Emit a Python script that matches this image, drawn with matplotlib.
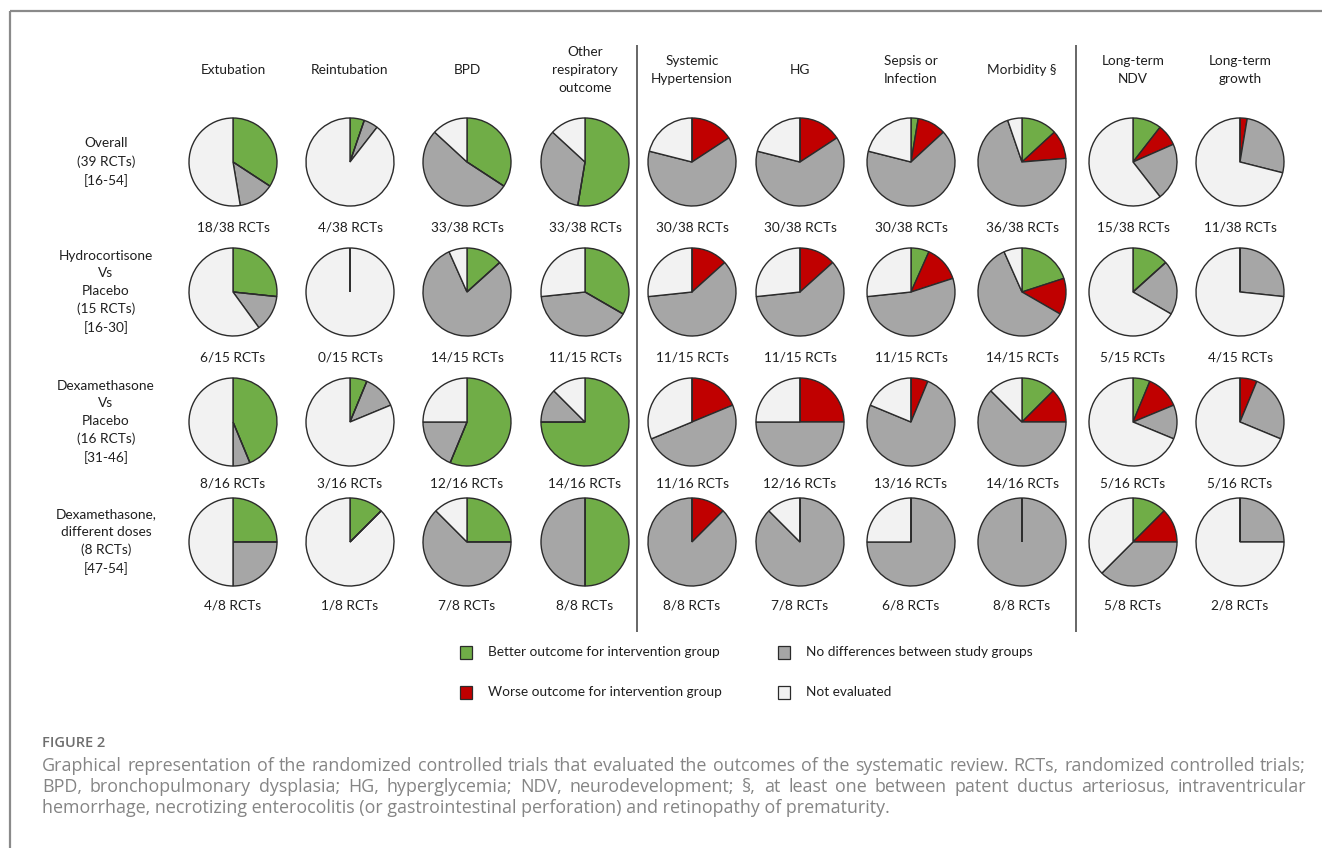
import matplotlib
matplotlib.use("Agg")
import matplotlib.pyplot as plt
from matplotlib.patches import Rectangle

# ---------------- data ----------------
outcomes = ["Extubation", "Reintubation", "BPD", "Other\nrespiratory\noutcome",
            "Systemic\nHypertension", "HG", "Sepsis or\nInfection", "Morbidity §",
            "Long-term\nNDV", "Long-term\ngrowth"]
groups = ["Overall\n(39 RCTs)\n[16-54]",
          "Hydrocortisone\nVs\nPlacebo\n(15 RCTs)\n[16-30]",
          "Dexamethasone\nVs\nPlacebo\n(16 RCTs)\n[31-46]",
          "Dexamethasone,\ndifferent doses\n(8 RCTs)\n[47-54]"]
totals = [38, 15, 16, 8]

better = [
    [13, 2, 13, 20, 0, 0, 1, 5, 4, 0],
    [4, 0, 2, 5, 0, 0, 1, 3, 2, 0],
    [7, 1, 9, 12, 0, 0, 0, 2, 1, 0],
    [2, 1, 2, 4, 0, 0, 0, 0, 1, 0],
]
worse = [
    [0, 0, 0, 0, 6, 6, 4, 4, 3, 1],
    [0, 0, 0, 0, 2, 2, 2, 2, 0, 0],
    [0, 0, 0, 0, 3, 4, 1, 2, 2, 1],
    [0, 0, 0, 0, 1, 0, 0, 0, 1, 0],
]
no_diff = [
    [5, 2, 20, 13, 24, 24, 25, 27, 8, 10],
    [2, 0, 12, 6, 9, 9, 8, 9, 3, 4],
    [1, 2, 3, 2, 8, 8, 12, 10, 2, 4],
    [2, 0, 5, 4, 7, 7, 6, 8, 3, 2],
]

legend_labels = ["Better outcome for intervention group", "No differences between study groups",
                 "Worse outcome for intervention group", "Not evaluated"]

caption_title = "FIGURE 2"
caption_lines = [
    "Graphical representation of the randomized controlled trials that evaluated the outcomes of the "
    "systematic review. RCTs, randomized controlled trials;",
    "BPD, bronchopulmonary dysplasia; HG, hyperglycemia; NDV, neurodevelopment; §, at least one "
    "between patent ductus arteriosus, intraventricular",
    "hemorrhage, necrotizing enterocolitis (or gastrointestinal perforation) and retinopathy of prematurity.",
]

# ---------------- style ----------------
C_BETTER = "#70AD47"
C_WORSE = "#C00000"
C_NODIFF = "#A6A6A6"
C_NOTEVAL = "#F2F2F2"
EDGE = "#2b2b2b"
TXT = "#1f1f1f"
CAP = "#858585"
FONT = ["Lato", "DejaVu Sans"]
CAPFONT = ["Open Sans", "DejaVu Sans"]

W, H = 1322, 848
fig = plt.figure(figsize=(W / 100, H / 100), dpi=100)
ax = fig.add_axes([0, 0, 1, 1])


def Y(y):
    """Convert a top-down pixel row into the upward data axis."""
    return H - y


col_x = [233, 350, 467, 585, 692, 800, 911, 1022, 1133, 1240]
row_y = [162, 292, 422, 542]
label_dy = [65, 65, 61, 63]
R = 44

for r, yc in enumerate(row_y):
    for c, xc in enumerate(col_x):
        b, w, n = better[r][c], worse[r][c], no_diff[r][c]
        evaluated = b + w + n
        vals = [b, w, n, totals[r] - evaluated]
        wedges, _ = ax.pie(vals, center=(xc, Y(yc)), radius=R, startangle=90,
                           counterclock=False, frame=True,
                           colors=[C_BETTER, C_WORSE, C_NODIFF, C_NOTEVAL],
                           wedgeprops=dict(edgecolor=EDGE, linewidth=1.0))
        # empty categories collapse to a radial stroke; keep it above full-circle slices
        for wdg, v in zip(wedges, vals):
            if v == 0:
                wdg.set_zorder(wdg.get_zorder() + 0.5)
        ax.text(xc, Y(yc + label_dy[r]), f"{evaluated}/{totals[r]} RCTs", ha="center",
                va="center", fontsize=9.8, color=TXT, family=FONT)

# column headers
for c, xc in enumerate(col_x):
    ax.text(xc, Y(70), outcomes[c], ha="center", va="center", fontsize=9.8, color=TXT,
            family=FONT, linespacing=1.55, multialignment="center")

# row headers
for r, yc in enumerate(row_y):
    ax.text(106, Y(yc), groups[r], ha="center", va="center", fontsize=9.8, color=TXT,
            family=FONT, linespacing=1.55, multialignment="center")

# group separators
for xs in (637, 1076):
    ax.plot([xs, xs], [Y(45), Y(632)], color="#4d4d4d", lw=1.2, solid_capstyle="butt")

# legend
leg_pos = [(466, 652), (784, 652), (466, 692), (784, 692)]
leg_cols = [C_BETTER, C_NODIFF, C_WORSE, C_NOTEVAL]
for (lx, ly), col, lab in zip(leg_pos, leg_cols, legend_labels):
    ax.add_patch(Rectangle((lx - 6, Y(ly) - 6.5), 12, 13, facecolor=col, edgecolor=EDGE, lw=0.9))
    ax.text(lx + 22, Y(ly), lab, ha="left", va="center", fontsize=9.8, color=TXT, family=FONT)

# outer frame
ax.plot([9.5, W], [Y(10.5), Y(10.5)], color="#8a8a8a", lw=1.6, solid_capstyle="butt")
ax.plot([9.5, 9.5], [Y(10.5), 0], color="#8a8a8a", lw=1.6, solid_capstyle="butt")

# caption
ax.text(42, Y(743), caption_title, ha="left", va="center", fontsize=10.5, color="#6e6e6e",
        family=CAPFONT, fontweight="semibold")

renderer = fig.canvas.get_renderer()
cap_left, cap_right = 42, 1306
cap_base = [771, 792, 813]
cap_size = 12.9
for i, (line, yy) in enumerate(zip(caption_lines, cap_base)):
    if i == len(caption_lines) - 1:
        ax.text(cap_left, Y(yy), line, ha="left", va="baseline", fontsize=cap_size,
                color=CAP, family=CAPFONT)
        continue
    # justified line: spread the words across the full caption width
    words = line.split(" ")
    arts = [ax.text(0, Y(yy), wd, ha="left", va="baseline", fontsize=cap_size, color=CAP,
                    family=CAPFONT) for wd in words]
    widths = [a.get_window_extent(renderer).width for a in arts]
    gap = (cap_right - cap_left - sum(widths)) / (len(words) - 1)
    x = cap_left
    for a, wd in zip(arts, widths):
        a.set_x(x)
        x += wd + gap

ax.set_xlim(0, W)
ax.set_ylim(0, H)
ax.set_aspect("equal")
ax.axis("off")

fig.savefig("out.png", dpi=100, facecolor="white")
